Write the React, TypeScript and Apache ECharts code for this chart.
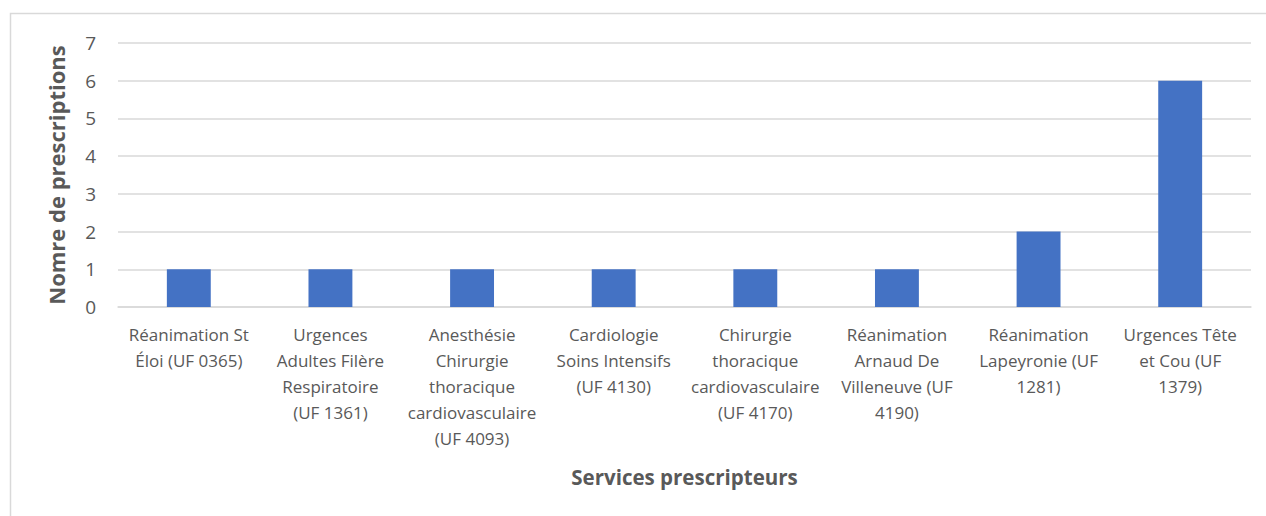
import React, { useEffect, useRef } from "react";
import * as echarts from "echarts";

const categories: string[] = [
  "Réanimation St\nÉloi (UF 0365)",
  "Urgences\nAdultes Filère\nRespiratoire\n(UF 1361)",
  "Anesthésie\nChirurgie\nthoracique\ncardiovasculaire\n(UF 4093)",
  "Cardiologie\nSoins Intensifs\n(UF 4130)",
  "Chirurgie\nthoracique\ncardiovasculaire\n(UF 4170)",
  "Réanimation\nArnaud De\nVilleneuve (UF\n4190)",
  "Réanimation\nLapeyronie (UF\n1281)",
  "Urgences Tête\net Cou (UF\n1379)",
];
const prescriptions: number[] = [1, 1, 1, 1, 1, 1, 2, 6];
const yAxisTitle = "Nomre de prescriptions";
const xAxisTitle = "Services prescripteurs";

const FONT = "'Open Sans', 'Noto Sans', sans-serif";
const TEXT = "#595959";
const GRID = "#d9d9d9";

export default function App() {
  const ref = useRef<HTMLDivElement>(null);
  useEffect(() => {
    if (!ref.current) return;
    const chart = echarts.init(ref.current, undefined, { renderer: "svg" });
    chart.setOption({
      animation: false,
      backgroundColor: "#ffffff",
      textStyle: { fontFamily: FONT },
      graphic: [
        {
          type: "rect",
          shape: { x: 10.5, y: 13.5, width: 1300, height: 600 },
          style: { fill: "none", stroke: GRID, lineWidth: 1.5 },
          silent: true,
        },
      ],
      grid: { left: 118, right: 15, top: 43, bottom: 209 },
      xAxis: {
        type: "category",
        data: categories,
        name: xAxisTitle,
        nameLocation: "middle",
        nameGap: 159,
        nameTextStyle: { fontFamily: FONT, fontSize: 20.5, fontWeight: "bold", color: TEXT },
        axisLine: { show: true, lineStyle: { color: GRID, width: 1.5 } },
        axisTick: { show: false },
        axisLabel: {
          interval: 0,
          fontFamily: FONT,
          fontSize: 17,
          color: TEXT,
          lineHeight: 26,
          margin: 14,
          verticalAlign: "top",
        },
      },
      yAxis: {
        type: "value",
        min: 0,
        max: 7,
        interval: 1,
        name: yAxisTitle,
        nameLocation: "middle",
        nameGap: 51,
        nameTextStyle: { fontFamily: FONT, fontSize: 22, fontWeight: "bold", color: TEXT },
        axisLine: { show: false },
        axisTick: { show: false },
        axisLabel: { fontFamily: FONT, fontSize: 19, color: TEXT, margin: 22 },
        splitLine: { show: true, lineStyle: { color: GRID, width: 1.5 } },
      },
      series: [
        {
          type: "bar",
          data: prescriptions,
          barWidth: "31%",
          itemStyle: { color: "#4472c4" },
        },
      ],
    });
    return () => chart.dispose();
  }, []);
  return (
    <div
      ref={ref}
      style={{ position: "absolute", left: 0, top: 0, width: 1266, height: 516 }}
    />
  );
}
